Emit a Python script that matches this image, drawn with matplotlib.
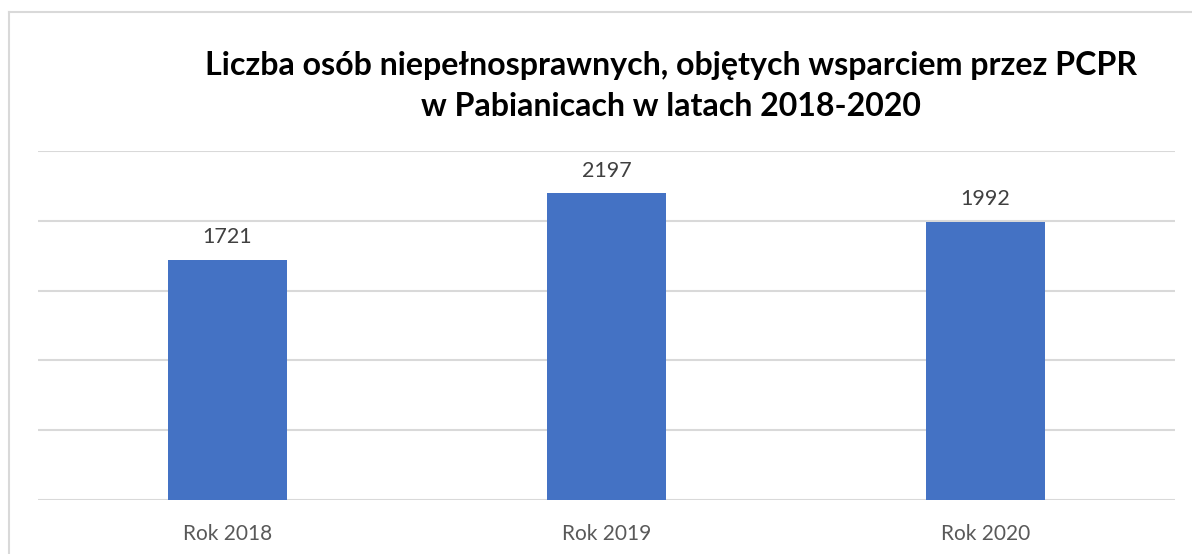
import matplotlib
matplotlib.use("Agg")
import matplotlib.pyplot as plt
from matplotlib.lines import Line2D

categories = ["Rok 2018", "Rok 2019", "Rok 2020"]
values = [1721, 2197, 1992]
title = "Liczba osób niepełnosprawnych, objętych wsparciem przez PCPR\nw Pabianicach w latach 2018-2020"

plt.rcParams['font.family'] = ['Lato', 'DejaVu Sans']

W, H = 1192, 554
fig = plt.figure(figsize=(W / 100, H / 100), dpi=100)
ax = fig.add_axes([38 / W, 1 - 500 / H, (1175 - 38) / W, (500 - 151) / H])

x = range(len(categories))
bars = ax.bar(x, values, width=0.314, color="#4472C4", zorder=3)
ax.set_xlim(-0.5, len(categories) - 0.5)
ax.set_ylim(0, 2500)
ax.set_yticks([0, 500, 1000, 1500, 2000, 2500])
ax.yaxis.grid(True, color="#d9d9d9", linewidth=1.5, zorder=0)
ax.tick_params(axis='y', left=False, labelleft=False)
ax.tick_params(axis='x', length=0, pad=17, labelsize=15, labelcolor="#595959")
ax.set_xticks(list(x))
ax.set_xticklabels(categories)
for s in ax.spines.values():
    s.set_visible(False)

for b, v in zip(bars, values):
    ax.annotate(str(v), (b.get_x() + b.get_width() / 2, v), xytext=(0, 9),
                textcoords="offset points", ha="center", va="bottom",
                fontsize=15.5, color="#404040")

fig.text(671 / W, 1 - 86 / H, title, ha="center", va="center", fontsize=23.1,
         fontweight="bold", color="black", linespacing=1.52)

# chart frame
fig.add_artist(Line2D([9 / W, 9 / W], [0, 1 - 12 / H], transform=fig.transFigure,
                      color="#d9d9d9", linewidth=1.5))
fig.add_artist(Line2D([9 / W, 1], [1 - 12 / H, 1 - 12 / H], transform=fig.transFigure,
                      color="#d9d9d9", linewidth=1.5))

fig.savefig("out.png", dpi=100)
